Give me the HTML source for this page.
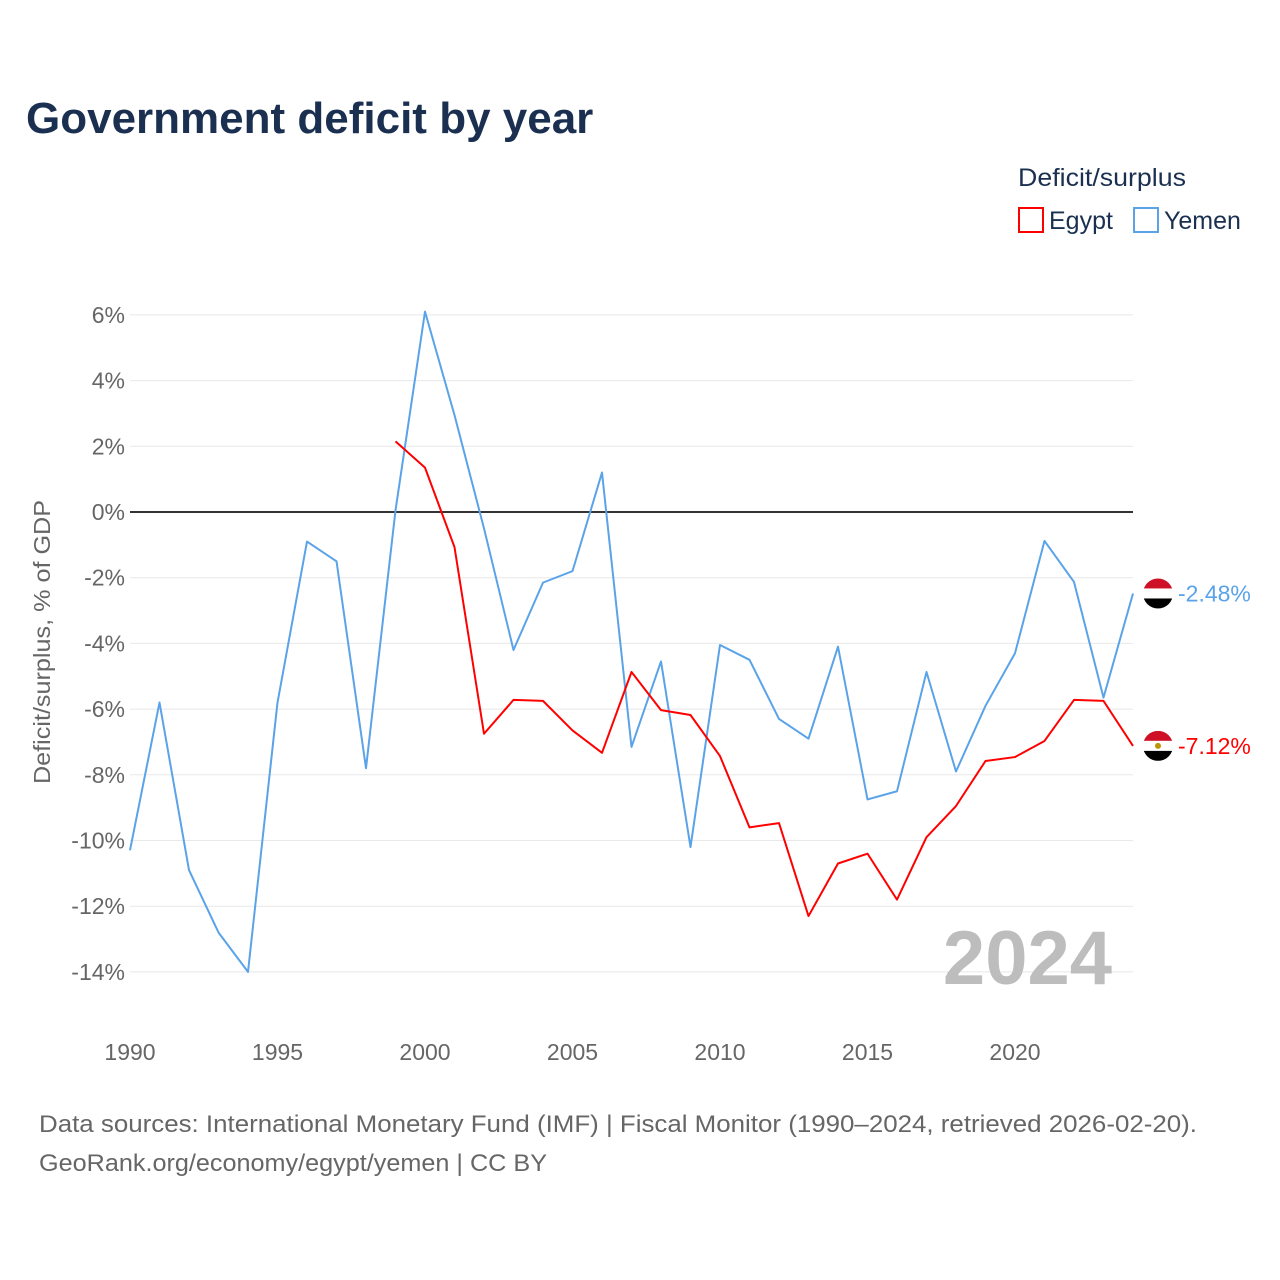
<!DOCTYPE html>
<html><head><meta charset="utf-8">
<style>
body{margin:0;background:#fff;font-family:"Liberation Sans",sans-serif;}
#wrap{position:relative;width:1280px;height:1280px;overflow:hidden;}
</style></head>
<body>
<div id="wrap">
<svg id="chart" width="1280" height="1280">
<text x="26" y="133" font-size="44" font-weight="bold" fill="#1b3050">Government deficit by year</text>
<text x="1018" y="186" font-size="25" fill="#1b3050" textLength="168" lengthAdjust="spacingAndGlyphs">Deficit/surplus</text>
<rect x="1019" y="208" width="24" height="24" fill="none" stroke="#ff0000" stroke-width="2"/>
<text x="1049" y="229" font-size="25" fill="#1b3050">Egypt</text>
<rect x="1134" y="208" width="24" height="24" fill="none" stroke="#5aa3e8" stroke-width="2"/>
<text x="1164" y="229" font-size="25" fill="#1b3050">Yemen</text>
<g id="grid"></g>
<text x="1112" y="984" font-size="76" font-weight="bold" fill="#bdbdbd" text-anchor="end">2024</text>
<text transform="translate(50,642) rotate(-90)" font-size="23" fill="#666" text-anchor="middle" textLength="284" lengthAdjust="spacingAndGlyphs">Deficit/surplus, % of GDP</text>
<g id="series"></g>
<text x="39" y="1132" font-size="24" fill="#666" textLength="1158" lengthAdjust="spacingAndGlyphs">Data sources: International Monetary Fund (IMF) | Fiscal Monitor (1990–2024, retrieved 2026-02-20).</text>
<text x="39" y="1171" font-size="24" fill="#666" textLength="508" lengthAdjust="spacingAndGlyphs">GeoRank.org/economy/egypt/yemen | CC BY</text>
</svg>
</div>
<script>
const years = [];
for (let y = 1990; y <= 2024; y++) years.push(y);
const yemenValues = [-10.3,-5.8,-10.9,-12.8,-14.0,-5.8,-0.9,-1.5,-7.8,0.05,6.1,2.95,-0.5,-4.2,-2.15,-1.8,1.2,-7.15,-4.55,-10.2,-4.05,-4.5,-6.3,-6.9,-4.1,-8.75,-8.5,-4.87,-7.9,-5.9,-4.3,-0.88,-2.13,-5.65,-2.48];
const egyptYears = [1999,2000,2001,2002,2003,2004,2005,2006,2007,2008,2009,2010,2011,2012,2013,2014,2015,2016,2017,2018,2019,2020,2021,2022,2023,2024];
const egyptValues = [2.15,1.35,-1.07,-6.75,-5.72,-5.75,-6.65,-7.33,-4.87,-6.03,-6.18,-7.43,-9.6,-9.47,-12.3,-10.7,-10.4,-11.8,-9.9,-8.95,-7.58,-7.46,-6.97,-5.72,-5.75,-7.12];
const yTicks = [6,4,2,0,-2,-4,-6,-8,-10,-12,-14];
const xTicks = [1990,1995,2000,2005,2010,2015,2020];

const NS = "http://www.w3.org/2000/svg";
const xS = y => 130 + (y - 1990) * 29.5;
const yS = v => 512 - v * 32.85;
function mk(tag, attrs, parent) {
  const e = document.createElementNS(NS, tag);
  for (const k in attrs) e.setAttribute(k, attrs[k]);
  parent.appendChild(e);
  return e;
}
const grid = document.getElementById('grid');
const series = document.getElementById('series');
yTicks.forEach(v => {
  const l = mk('line', {x1:130, x2:1133, y1:yS(v), y2:yS(v), stroke: v===0?'#333':'#e8e8e8', 'stroke-width': v===0?2:1}, grid);
  
  
  const t = mk('text', {x:125, y:yS(v)+8, 'font-size':23, fill:'#666', 'text-anchor':'end'}, grid);
  t.textContent = v + '%';
  
  
});
xTicks.forEach(y => {
  const t = mk('text', {x:xS(y), y:1060, 'font-size':23, fill:'#666', 'text-anchor':'middle'}, grid);
  t.textContent = y;
  
  
});
function line(xs, vs, color, name) {
  const p = mk('polyline', {points: xs.map((x,i)=>xS(x)+','+yS(vs[i])).join(' '), fill:'none', stroke:color, 'stroke-width':2, 'stroke-linejoin':'round'}, series);
  
  
}
line(years, yemenValues, '#5aa3e8', 'yemen-line');
line(egyptYears, egyptValues, '#ff0000', 'egypt-line');

function flag(v, color, name, emblem) {
  const cy = yS(v), cx = 1158, r = 15;
  const g = mk('g', {}, series);
  
  
  const id = 'clip-' + name;
  const cp = mk('clipPath', {id:id}, g);
  mk('circle', {cx:cx, cy:cy, r:r}, cp);
  const gg = mk('g', {'clip-path':'url(#'+id+')'}, g);
  mk('rect', {x:cx-r, y:cy-r, width:2*r, height:10, fill:'#ce1126'}, gg);
  mk('rect', {x:cx-r, y:cy-r+10, width:2*r, height:10, fill:'#fff'}, gg);
  mk('rect', {x:cx-r, y:cy-r+20, width:2*r, height:10, fill:'#000'}, gg);
  if (emblem) mk('circle', {cx:cx, cy:cy, r:3, fill:'#c09300'}, gg);
  const t = mk('text', {x:1178, y:cy+8, 'font-size':23, fill:color}, series);
  t.textContent = v.toFixed(2) + '%';
  
  
}
flag(yemenValues[yemenValues.length-1], '#5aa3e8', 'yemen', false);
flag(egyptValues[egyptValues.length-1], '#ff0000', 'egypt', true);
</script>
</body></html>
